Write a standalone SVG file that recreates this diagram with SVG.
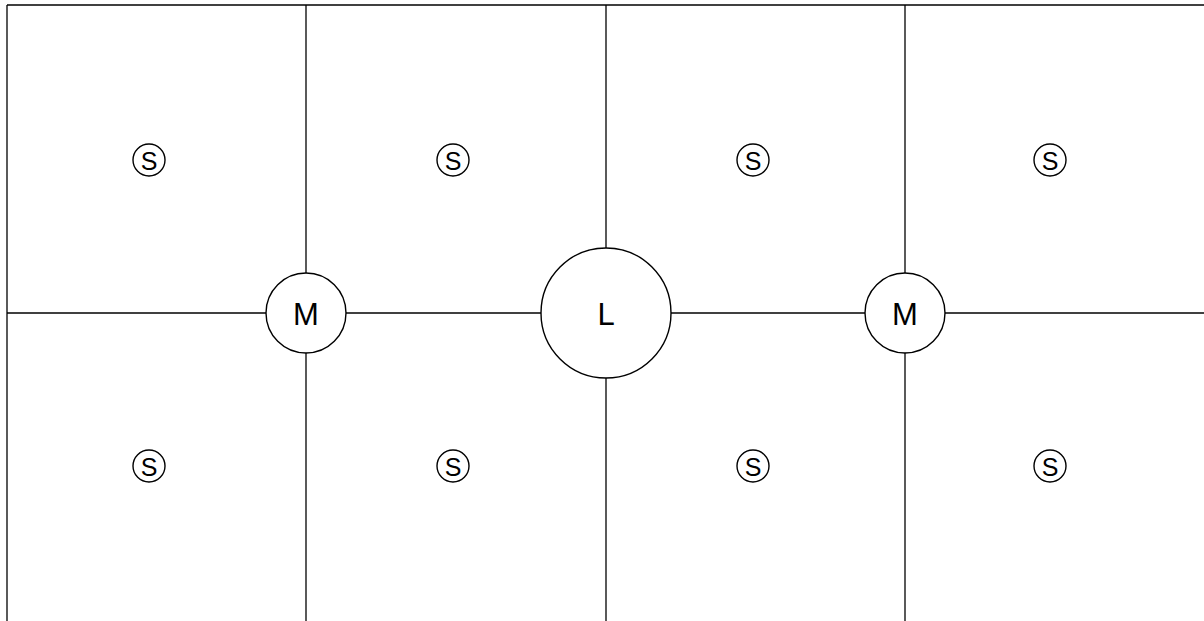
<svg xmlns="http://www.w3.org/2000/svg" width="1204" height="621" viewBox="0 0 1204 621">
<style>
.ln{stroke:#000;stroke-width:1.3;fill:none}
.c{fill:#fff;stroke:#000;stroke-width:1.4}
.t{font-family:"Liberation Sans",Arial,sans-serif;fill:#000;text-anchor:middle}
.big{font-size:31px}
.sm{font-size:25px}
</style>
<rect width="1204" height="621" fill="#fff"/>
<g id="connectors">
<line class="ln" x1="7" y1="5" x2="1204" y2="5"/>
<line class="ln" x1="7" y1="5" x2="7" y2="621"/>
<line class="ln" x1="7" y1="313" x2="1204" y2="313"/>
<line class="ln" x1="306" y1="5" x2="306" y2="621"/>
<line class="ln" x1="606" y1="5" x2="606" y2="621"/>
<line class="ln" x1="905" y1="5" x2="905" y2="621"/>
</g>
<g id="M1"><circle class="c" cx="306" cy="313" r="40"/><text class="t big" x="306" y="324.5">M</text></g>
<g id="L"><circle class="c" cx="606" cy="313" r="65"/><text class="t big" x="606" y="325">L</text></g>
<g id="M2"><circle class="c" cx="905" cy="313" r="40"/><text class="t big" x="905" y="324.5">M</text></g>
<g id="S1"><circle class="c" cx="149" cy="160" r="16"/><text class="t sm" x="149" y="169.5">S</text></g>
<g id="S2"><circle class="c" cx="453" cy="160" r="16"/><text class="t sm" x="453" y="169.5">S</text></g>
<g id="S3"><circle class="c" cx="753" cy="160" r="16"/><text class="t sm" x="753" y="169.5">S</text></g>
<g id="S4"><circle class="c" cx="1050" cy="160" r="16"/><text class="t sm" x="1050" y="169.5">S</text></g>
<g id="S5"><circle class="c" cx="149" cy="466" r="16"/><text class="t sm" x="149" y="475.5">S</text></g>
<g id="S6"><circle class="c" cx="453" cy="466" r="16"/><text class="t sm" x="453" y="475.5">S</text></g>
<g id="S7"><circle class="c" cx="753" cy="466" r="16"/><text class="t sm" x="753" y="475.5">S</text></g>
<g id="S8"><circle class="c" cx="1050" cy="466" r="16"/><text class="t sm" x="1050" y="475.5">S</text></g>
</svg>
